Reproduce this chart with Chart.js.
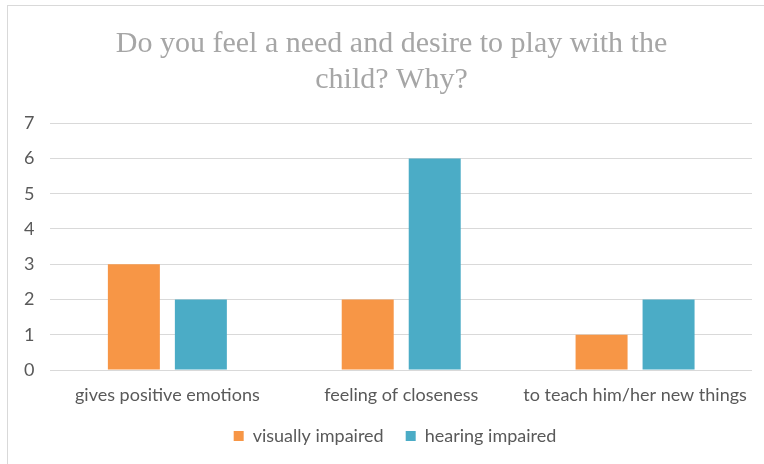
<!DOCTYPE html>
<html>
<head>
<meta charset="utf-8">
<script src="https://cdn.jsdelivr.net/npm/chart.js@4"></script>
<style>
  body { margin: 0; background: #fff; }
  #frame {
    position: absolute; left: 7px; top: 5px; width: 800px; height: 500px;
    border: 1px solid #d9d9d9;
  }
  #wrap { position: absolute; left: 0; top: 0; width: 764px; height: 464px; }
</style>
</head>
<body>
<div id="frame"></div>
<div id="wrap"><canvas id="chart" width="764" height="464"></canvas></div>
<script>
const categories = ["gives positive emotions", "feeling of closeness", "to teach him/her new things"];
const visuallyImpaired = [3, 2, 1];
const hearingImpaired = [2, 6, 2];
const yTicks = [0, 1, 2, 3, 4, 5, 6, 7];

const ctx = document.getElementById("chart");

// nudge title and legend to the right and keep the legend box short
const tweakBoxes = {
  id: "tweakBoxes",
  beforeLayout(chart) {
    const lg = chart.legend;
    if (lg && !lg._fitWrapped) {
      const fit = lg.fit;
      lg.fit = function () {
        fit.call(this);
        this.height = 58;
      };
      lg._fitWrapped = true;
    }
  },
  afterLayout(chart) {
    if (chart.titleBlock) chart.titleBlock.left += 23;
    if (chart.legend) chart.legend.left += 30;
  }
};

new Chart(ctx, {
  type: "bar",
  data: {
    labels: categories,
    datasets: [
      {
        label: "visually impaired",
        data: visuallyImpaired,
        backgroundColor: "#F79646",
        categoryPercentage: 0.573,
        barPercentage: 0.776
      },
      {
        label: "hearing impaired",
        data: hearingImpaired,
        backgroundColor: "#4BACC6",
        categoryPercentage: 0.573,
        barPercentage: 0.776
      }
    ]
  },
  plugins: [tweakBoxes],
  options: {
    responsive: false,
    animation: false,
    layout: { padding: { left: 8, right: 12, top: 17, bottom: 1 } },
    plugins: {
      title: {
        display: true,
        text: ["Do you feel a need and desire to play with the", "child? Why?"],
        color: "#a6a6a6",
        font: { family: "Liberation Serif", size: 30, weight: "normal", lineHeight: 1.17 },
        padding: { top: 10, bottom: 26 }
      },
      legend: {
        position: "bottom",
        labels: {
          color: "#595959",
          font: { family: "Lato", size: 18 },
          boxWidth: 10,
          boxHeight: 10,
          padding: 22
        }
      },
      tooltip: { enabled: false }
    },
    scales: {
      x: {
        afterFit: axis => {
          axis.height = 35;
        },
        grid: { display: false, drawTicks: false },
        border: { display: false },
        ticks: {
          color: "#595959",
          font: { family: "Lato", size: 18 },
          padding: 14
        }
      },
      y: {
        min: yTicks[0],
        max: yTicks[yTicks.length - 1],
        afterBuildTicks: axis => {
          axis.ticks = yTicks.map(v => ({ value: v }));
        },
        grid: { color: "#d9d9d9", drawTicks: false },
        border: { display: false },
        ticks: {
          color: "#595959",
          font: { family: "Lato", size: 18 },
          padding: 16
        }
      }
    }
  }
});
</script>
</body>
</html>
